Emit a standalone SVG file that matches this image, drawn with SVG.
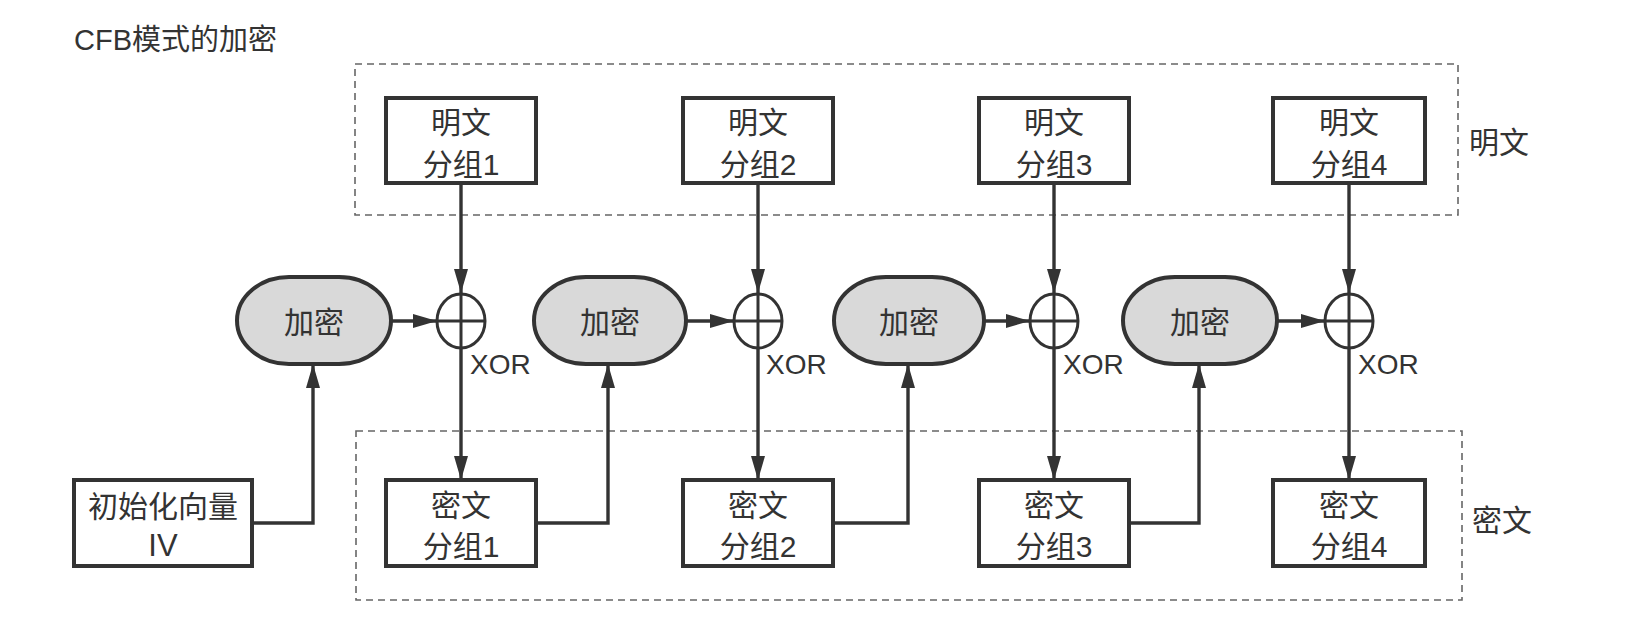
<svg xmlns="http://www.w3.org/2000/svg" width="1626" height="630" viewBox="0 0 1626 630">
  <defs>
    <marker id="ah" markerUnits="userSpaceOnUse" markerWidth="24" markerHeight="14" refX="24" refY="7" orient="auto">
      <path d="M0,0 L24,7 L0,14 z" fill="#333"/>
    </marker>
    <style>
      .t { font-family: "Liberation Sans", "Noto Sans CJK SC", sans-serif; font-size: 30px; fill: #333; text-anchor: middle; }
      .tl { font-family: "Liberation Sans", "Noto Sans CJK SC", sans-serif; font-size: 30px; fill: #333; }
      .x { font-family: "Liberation Sans", "Noto Sans CJK SC", sans-serif; font-size: 28px; fill: #333; }
      .box { fill: #fff; stroke: #333; stroke-width: 4; }
      .pill { fill: #d9d9d9; stroke: #333; stroke-width: 4; }
      .xor { fill: none; stroke: #333; stroke-width: 3; }
      .dash { fill: none; stroke: #666; stroke-width: 1.6; stroke-dasharray: 7 5; }
      .c { fill: none; stroke: #333; stroke-width: 3.4; marker-end: url(#ah); }
    </style>
  </defs>
  <rect width="1626" height="630" fill="#fff"/>

  <text id="title" class="tl" x="74" y="50" style="font-size:29px">CFB模式的加密</text>

  <g id="group-plain">
    <rect class="dash" x="355" y="64" width="1103" height="151"/>
    <text class="tl" x="1469" y="153">明文</text>
  </g>
  <g id="group-cipher">
    <rect class="dash" x="356" y="431" width="1106" height="169"/>
    <text class="tl" x="1472" y="531">密文</text>
  </g>

  <g id="connectors">
    <path class="c" d="M461,183 V293"/>
    <path class="c" d="M758,183 V293"/>
    <path class="c" d="M1054,183 V293"/>
    <path class="c" d="M1349,183 V293"/>
    <path class="c" d="M461,348 V480"/>
    <path class="c" d="M758,348 V480"/>
    <path class="c" d="M1054,348 V480"/>
    <path class="c" d="M1349,348 V480"/>
    <path class="c" d="M391,321 H437"/>
    <path class="c" d="M686,321 H734"/>
    <path class="c" d="M984,321 H1030"/>
    <path class="c" d="M1277,321 H1325"/>
    <path class="c" d="M252,523 H313 V364"/>
    <path class="c" d="M536,523 H608 V364"/>
    <path class="c" d="M833,523 H908 V364"/>
    <path class="c" d="M1129,523 H1199 V364"/>
  </g>

  <g id="p1"><rect class="box" x="386" y="98" width="150" height="85"/><text class="t" x="461" y="133">明文</text><text class="t" x="461" y="175">分组1</text></g>
  <g id="p2"><rect class="box" x="683" y="98" width="150" height="85"/><text class="t" x="758" y="133">明文</text><text class="t" x="758" y="175">分组2</text></g>
  <g id="p3"><rect class="box" x="979" y="98" width="150" height="85"/><text class="t" x="1054" y="133">明文</text><text class="t" x="1054" y="175">分组3</text></g>
  <g id="p4"><rect class="box" x="1273" y="98" width="152" height="85"/><text class="t" x="1349" y="133">明文</text><text class="t" x="1349" y="175">分组4</text></g>

  <g id="e1"><rect class="pill" x="237" y="277" width="154" height="87" rx="52" ry="43.5"/><text class="t" x="314" y="333">加密</text></g>
  <g id="e2"><rect class="pill" x="534" y="277" width="152" height="87" rx="52" ry="43.5"/><text class="t" x="610" y="333">加密</text></g>
  <g id="e3"><rect class="pill" x="834" y="277" width="150" height="87" rx="52" ry="43.5"/><text class="t" x="909" y="333">加密</text></g>
  <g id="e4"><rect class="pill" x="1123" y="277" width="154" height="87" rx="52" ry="43.5"/><text class="t" x="1200" y="333">加密</text></g>

  <g id="x1"><ellipse class="xor" cx="461" cy="321" rx="24" ry="27"/><path class="xor" d="M437,321 H485 M461,294 V348"/><text class="x" x="470" y="374">XOR</text></g>
  <g id="x2"><ellipse class="xor" cx="758" cy="321" rx="24" ry="27"/><path class="xor" d="M734,321 H782 M758,294 V348"/><text class="x" x="766" y="374">XOR</text></g>
  <g id="x3"><ellipse class="xor" cx="1054" cy="321" rx="24" ry="27"/><path class="xor" d="M1030,321 H1078 M1054,294 V348"/><text class="x" x="1063" y="374">XOR</text></g>
  <g id="x4"><ellipse class="xor" cx="1349" cy="321" rx="24" ry="27"/><path class="xor" d="M1325,321 H1373 M1349,294 V348"/><text class="x" x="1358" y="374">XOR</text></g>

  <g id="c1"><rect class="box" x="386" y="480" width="150" height="86"/><text class="t" x="461" y="516">密文</text><text class="t" x="461" y="557">分组1</text></g>
  <g id="c2"><rect class="box" x="683" y="480" width="150" height="86"/><text class="t" x="758" y="516">密文</text><text class="t" x="758" y="557">分组2</text></g>
  <g id="c3"><rect class="box" x="979" y="480" width="150" height="86"/><text class="t" x="1054" y="516">密文</text><text class="t" x="1054" y="557">分组3</text></g>
  <g id="c4"><rect class="box" x="1273" y="480" width="152" height="86"/><text class="t" x="1349" y="516">密文</text><text class="t" x="1349" y="557">分组4</text></g>

  <g id="iv"><rect class="box" x="74" y="480" width="178" height="86"/><text class="t" x="163" y="517" style="font-size:30px">初始化向量</text><text class="t" x="163" y="556" style="font-size:31px">IV</text></g>
</svg>
